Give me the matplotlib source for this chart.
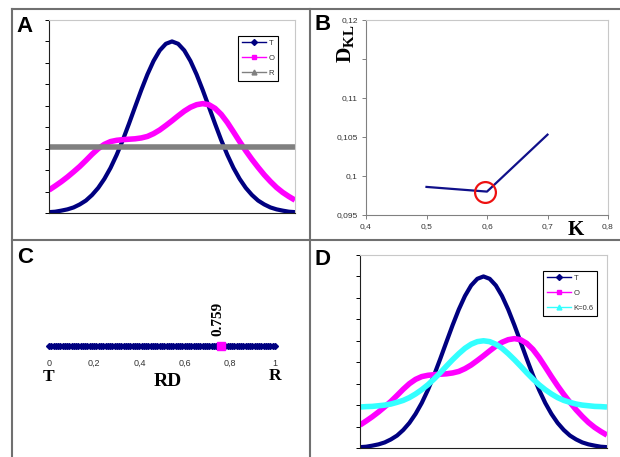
import numpy as np
import matplotlib
matplotlib.use('Agg')
import matplotlib.pyplot as plt
from matplotlib.lines import Line2D

# ── Datos ─────────────────────────────────────────────────────────────────────

x_pos = np.linspace(0, 1, 41)

t_vals = [0.04, 0.06, 0.11, 0.17, 0.26, 0.40, 0.58, 0.84, 1.17, 1.59, 2.10,
          2.71, 3.40, 4.16, 4.95, 5.73, 6.46, 7.09, 7.58, 7.89, 8.00, 7.89,
          7.58, 7.09, 6.46, 5.73, 4.95, 4.16, 3.40, 2.71, 2.10, 1.59, 1.17,
          0.84, 0.58, 0.40, 0.26, 0.17, 0.11, 0.06, 0.04]

o_vals = [1.07, 1.26, 1.46, 1.68, 1.92, 2.17, 2.45, 2.74, 3.00, 3.20, 3.33,
          3.39, 3.42, 3.44, 3.46, 3.50, 3.57, 3.70, 3.87, 4.08, 4.30, 4.53,
          4.75, 4.93, 5.05, 5.10, 5.05, 4.88, 4.60, 4.22, 3.78, 3.33, 2.90,
          2.50, 2.13, 1.78, 1.47, 1.19, 0.96, 0.77, 0.60]

r_vals = [3.07] * 41

k06_vals = [1.91, 1.93, 1.94, 1.97, 2.00, 2.05, 2.13, 2.22, 2.35, 2.52, 2.72,
            2.95, 3.22, 3.51, 3.82, 4.12, 4.40, 4.65, 4.84, 4.96, 5.00, 4.96,
            4.84, 4.65, 4.40, 4.12, 3.82, 3.51, 3.22, 2.95, 2.72, 2.52, 2.35,
            2.22, 2.13, 2.05, 2.00, 1.97, 1.94, 1.93, 1.91]

k_vals = [0.5, 0.6, 0.7]
dkl_vals = [0.0986, 0.0980, 0.1053]
k_best = 0.596
dkl_best = 0.0980

rd_grid = np.linspace(0, 1, 101)
rd_value = 0.759

b_xticks = [0.4, 0.5, 0.6, 0.7, 0.8]
b_xlabels = ['0,4', '0,5', '0,6', '0,7', '0,8']
b_yticks = [0.095, 0.1, 0.105, 0.11, 0.115, 0.12]
b_ylabels = ['0,095', '0,1', '0,105', '0,11', '', '0,12']
c_ticks = [0, 0.2, 0.4, 0.6, 0.8, 1]
c_labels = ['0', '0,2', '0,4', '0,6', '0,8', '1']

# ── Estilo ────────────────────────────────────────────────────────────────────

plt.rcParams.update({
    'font.family': 'Liberation Sans',
    'mathtext.fontset': 'custom',
    'mathtext.rm': 'Liberation Serif',
    'mathtext.bf': 'Liberation Serif:bold',
})

C_NAVY = '#000080'
C_MAG = '#ff00ff'
C_GRIS = '#808080'
C_CIAN = '#33ffff'
C_BORDE = '#707070'
C_TXT = '#333333'

W, H = 620, 457
fig = plt.figure(figsize=(W / 100, H / 100), dpi=100)


def rect(x0, y0, x1, y1):
    # pixeles (origen arriba-izquierda) -> fracción de figura
    return [x0 / W, 1 - y1 / H, (x1 - x0) / W, (y1 - y0) / H]


def marco(ax):
    for s in ('top', 'right'):
        ax.spines[s].set_color('#c8c8c8')
        ax.spines[s].set_linewidth(0.8)
    for s in ('left', 'bottom'):
        ax.spines[s].set_color('#202020')
        ax.spines[s].set_linewidth(0.8)


def curvas(ax):
    marco(ax)
    ax.set_xlim(0, 1)
    ax.set_ylim(0, 9)
    ax.set_yticks(range(10))
    ax.set_yticklabels([])
    ax.set_xticks([])
    ax.tick_params(axis='y', direction='out', length=3, width=0.7)


def leyenda(ax, handles, labels, anchor):
    lg = ax.legend(handles, labels, loc='upper right', bbox_to_anchor=anchor,
                   fontsize=5.5, handlelength=3.2, handletextpad=0.3,
                   borderpad=0.5, labelspacing=1.0, fancybox=False,
                   framealpha=1, edgecolor='black')
    lg.get_frame().set_linewidth(0.8)
    for t in lg.get_texts():
        t.set_color(C_TXT)


# ── Panel A ───────────────────────────────────────────────────────────────────

ax = fig.add_axes(rect(49, 20, 295, 213))
curvas(ax)
ax.plot(x_pos, t_vals, color=C_NAVY, lw=3.0, solid_capstyle='round')
ax.plot(x_pos, o_vals, color=C_MAG, lw=4.0, solid_capstyle='butt')
ax.plot(x_pos, r_vals, color=C_GRIS, lw=4.0, solid_capstyle='butt')
h = [Line2D([], [], color=C_NAVY, lw=1, marker='D', ms=3),
     Line2D([], [], color=C_MAG, lw=1, marker='s', ms=3.5),
     Line2D([], [], color=C_GRIS, lw=1, marker='^', ms=3.5)]
leyenda(ax, h, ['T', 'O', 'R'], (0.947, 0.938))

# ── Panel B ───────────────────────────────────────────────────────────────────

ax = fig.add_axes(rect(366, 20, 608, 215))
marco(ax)
ax.spines['left'].set_color(C_GRIS)
ax.spines['bottom'].set_color(C_GRIS)
ax.plot(k_vals, dkl_vals, color='#10108a', lw=1.6)
ax.plot([k_best], [dkl_best], 'o', mfc='none', mec='#ee1111', mew=1.6, ms=15)
ax.set_xlim(0.4, 0.8)
ax.set_ylim(0.095, 0.12)
ax.set_xticks(b_xticks)
ax.set_xticklabels(b_xlabels)
ax.set_yticks(b_yticks)
ax.set_yticklabels(b_ylabels)
ax.tick_params(direction='out', length=3, width=0.7, labelsize=6,
               labelcolor=C_TXT, color=C_GRIS, pad=3)
fig.text(346 / W, 1 - 44 / H, r'$\mathbf{D_{KL}}$', rotation=90,
         ha='center', va='center', fontsize=15.5)
fig.text(576 / W, 1 - 230 / H, 'K', family='Liberation Serif',
         weight='bold', ha='center', va='center', fontsize=15)

# ── Panel C ───────────────────────────────────────────────────────────────────

ax = fig.add_axes(rect(49, 300, 275, 346))
ax.set_xlim(0, 1)
ax.set_ylim(0, 1)
for s in ax.spines.values():
    s.set_visible(False)
ax.set_yticks([])
ax.set_xticks(c_ticks)
ax.set_xticklabels(c_labels)
ax.tick_params(axis='x', length=0, pad=9, labelsize=6.5, labelcolor=C_TXT)
ax.plot(rd_grid, np.zeros_like(rd_grid), color=C_NAVY, lw=2, marker='D',
        ms=3, clip_on=False)
ax.plot([rd_value], [0], 's', color=C_MAG, ms=5.5, clip_on=False)
ax.text(rd_value - 0.01, 0.22, '0.759', rotation=90, ha='center', va='bottom',
        family='Liberation Serif', weight='bold', fontsize=11)
fig.text(49 / W, 1 - 377 / H, 'T', family='Liberation Serif', weight='bold',
         ha='center', va='center', fontsize=12.5)
fig.text(275 / W, 1 - 376 / H, 'R', family='Liberation Serif', weight='bold',
         ha='center', va='center', fontsize=12.5)
fig.text(168 / W, 1 - 382 / H, 'RD', family='Liberation Serif', weight='bold',
         ha='center', va='center', fontsize=14)

# ── Panel D ───────────────────────────────────────────────────────────────────

ax = fig.add_axes(rect(360, 255, 607, 448))
curvas(ax)
ax.plot(x_pos, t_vals, color=C_NAVY, lw=3.0, solid_capstyle='round')
ax.plot(x_pos, o_vals, color=C_MAG, lw=4.0, solid_capstyle='butt')
ax.plot(x_pos, k06_vals, color=C_CIAN, lw=4.0, solid_capstyle='butt')
h = [Line2D([], [], color=C_NAVY, lw=1, marker='D', ms=3),
     Line2D([], [], color=C_MAG, lw=1, marker='s', ms=3.5),
     Line2D([], [], color=C_CIAN, lw=1, marker='^', ms=3.5)]
leyenda(ax, h, ['T', 'O', 'K=0.6'], (0.976, 0.938))

# ── Letras y separadores ──────────────────────────────────────────────────────

for letra, px, py in [('A', 16, 16), ('B', 314, 14), ('C', 17, 247), ('D', 314, 249)]:
    fig.text(px / W, 1 - py / H, letra, weight='bold', fontsize=16,
             ha='left', va='top')

lineas = [((12, 620), (9, 9)), ((12, 12), (9, 457)),
          ((310, 310), (9, 457)), ((12, 620), (240, 240))]
for xs, ys in lineas:
    fig.add_artist(Line2D([x / W for x in xs], [1 - y / H for y in ys],
                          color=C_BORDE, lw=1.5))

fig.savefig('out.png', dpi=100)
